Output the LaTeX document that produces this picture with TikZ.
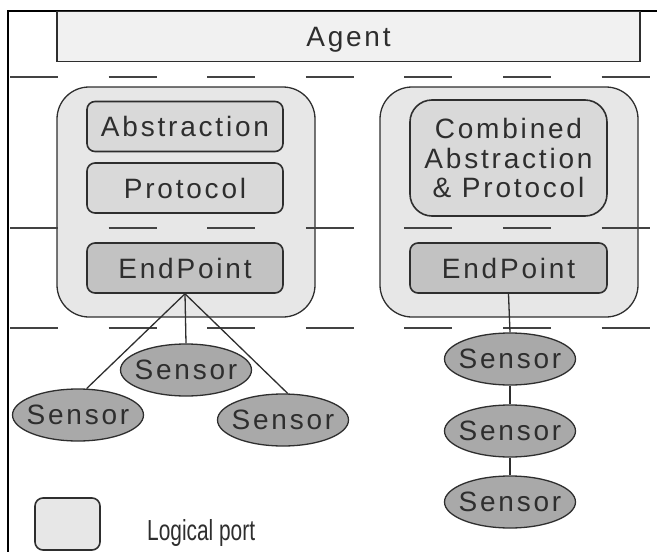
\documentclass[tikz,border=0pt]{standalone}
\usepackage{fontspec}
\usepackage{graphicx}
\setmainfont{Liberation Sans}
\usetikzlibrary{shapes.geometric}

\definecolor{ink}{HTML}{2E2E2E}
\definecolor{agentfill}{HTML}{F1F1F1}
\definecolor{portfill}{HTML}{E7E7E7}
\definecolor{layerfill}{HTML}{D9D9D9}
\definecolor{epfill}{HTML}{C2C2C2}
\definecolor{sensorfill}{HTML}{A9A9A9}

% sensor labels take no width, so the ellipse keeps its fixed size
\newcommand{\sensorlabel}{\makebox[0pt]{Sensor}}

\tikzset{
  label font/.style={font=\fontsize{28}{29.5}\selectfont\addfontfeature{LetterSpace=10}},
  agentbox/.style={draw=ink, line width=1.6pt, fill=agentfill, inner sep=0pt,
    minimum width=583pt, minimum height=50pt, text=ink, label font},
  portbox/.style={draw=ink, line width=1.3pt, fill=portfill, rounded corners=32pt,
    inner sep=0pt, minimum width=258pt, minimum height=230pt},
  layerbox/.style={draw=ink, line width=1.6pt, fill=layerfill, rounded corners=8pt,
    inner sep=0pt, minimum width=196pt, minimum height=50pt, text=ink, label font},
  epbox/.style={layerbox, fill=epfill},
  sensornode/.style={ellipse, draw=ink, line width=1.3pt, fill=sensorfill,
    inner sep=0pt, minimum width=131pt, minimum height=52pt, text=ink, label font},
  divider/.style={draw=ink!90, line width=1.8pt, dash pattern=on 48pt off 50.6pt},
  wire/.style={draw=ink, line width=1.3pt},
  frameline/.style={draw=black, line width=1.5pt}
}

\begin{document}
\begin{tikzpicture}[x=1pt, y=-1pt]
  \useasboundingbox (0,0) rectangle (657,552);

  % frame edges
  \draw[frameline] (8,552) -- (8,11) -- (657,11);

  % agent layer
  \node[agentbox, text depth=0pt, text height=20pt] (agent) at (348.5,36.5) {Agent};
  \draw[divider] (10,77) -- (652,77);

  % logical ports
  \node[portbox] (portL) at (186,202) {};
  \node[portbox] (portR) at (509,202) {};

  \node[layerbox] (abs) at (185,126.5) {Abstraction};
  \node[layerbox] (proto) at (185,188) {Protocol};
  \node[epbox] (ep1) at (185,268) {EndPoint};

  \node[layerbox, rounded corners=22pt, minimum width=197pt, minimum height=116pt,
    align=center] (comb) at (508.5,158) {Combined\\Abstraction\\\& Protocol};
  \node[epbox, minimum width=197pt] (ep2) at (508.5,268) {EndPoint};

  \draw[divider] (10,228) -- (652,228);
  \draw[divider] (10,328) -- (652,328);

  % sensors
  \node[sensornode] (s2) at (186,370) {\sensorlabel};
  \node[sensornode] (s1) at (78,415) {\sensorlabel};
  \node[sensornode] (s3) at (283,420) {\sensorlabel};
  \node[sensornode] (r1) at (510,359) {\sensorlabel};
  \node[sensornode] (r2) at (510,431) {\sensorlabel};
  \node[sensornode] (r3) at (510,502) {\sensorlabel};

  \draw[wire] (ep1.south) -- (s1.72);
  \draw[wire] (ep1.south) -- (s2.north);
  \draw[wire] (ep1.south) -- (s3.80);
  \draw[wire] (ep2.south) -- (r1.north);
  \draw[wire] (r1.south) -- (r2.north);
  \draw[wire] (r2.south) -- (r3.north);

  % legend
  \node[draw=ink, line width=1.6pt, fill=portfill, rounded corners=8pt, inner sep=0pt,
    minimum width=65pt, minimum height=52pt] (legbox) at (67.5,524) {};
  \node[text=ink, font=\fontsize{29}{30}\selectfont, anchor=west, inner sep=0pt]
    (legtext) at (147,533) {\scalebox{0.72}[1]{Logical port}};
\end{tikzpicture}
\end{document}
